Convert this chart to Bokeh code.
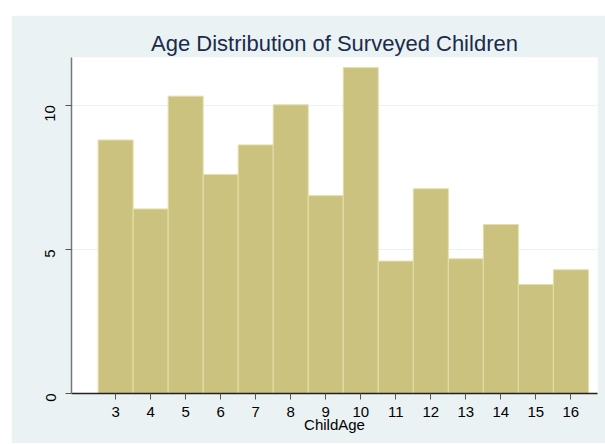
import math
from bokeh.plotting import figure
from bokeh.models import FixedTicker, ColumnDataSource
from bokeh.embed import file_html
from bokeh.resources import INLINE

ages = [3, 4, 5, 6, 7, 8, 9, 10, 11, 12, 13, 14, 15, 16]
percent = [8.79, 6.40, 10.31, 7.59, 8.62, 10.01, 6.86, 11.30, 4.59, 7.10, 4.67, 5.86, 3.78, 4.29]
x_ticks = ages
y_ticks = [0, 5, 10]

src = ColumnDataSource(dict(
    left=[a - 0.5 for a in ages],
    right=[a + 0.5 for a in ages],
    top=percent,
    bottom=[0] * len(ages),
))

BG = "#EAF2F3"
FONT = "Liberation Sans"

p = figure(width=594, height=428, output_backend="svg", toolbar_location=None,
           x_range=(1.74, 16.76), y_range=(0, 11.65),
           min_border_left=60, min_border_right=8, min_border_top=42, min_border_bottom=50,
           title="Age Distribution of Surveyed Children",
           styles={"position": "absolute", "left": "11px", "top": "15px"})

p.border_fill_color = BG
p.background_fill_color = "white"
p.outline_line_color = None

p.title.align = "center"
p.title.text_font = FONT
p.title.text_font_style = "normal"
p.title.text_font_size = "22px"
p.title.text_color = "#1A2B4C"
p.title.standoff = 3

p.quad(left="left", right="right", top="top", bottom="bottom", source=src,
       fill_color="#CAC27E", line_color="#E4DFA9", line_width=1)

p.xgrid.grid_line_color = None
p.ygrid.grid_line_color = BG
p.ygrid.grid_line_width = 1.2
p.ygrid.ticker = FixedTicker(ticks=y_ticks)

p.xaxis.ticker = FixedTicker(ticks=x_ticks)
p.yaxis.ticker = FixedTicker(ticks=y_ticks)
p.xaxis.minor_tick_line_color = None
p.yaxis.minor_tick_line_color = None

for ax in (p.xaxis, p.yaxis):
    ax.major_tick_out = 6
    ax.major_tick_in = 0
    ax.major_tick_line_color = "#555555"
    ax.major_label_text_font = FONT
    ax.major_label_text_font_size = "15px"
    ax.major_label_text_color = "black"
    ax.axis_label_text_font = FONT
    ax.axis_label_text_font_style = "normal"
    ax.axis_label_text_font_size = "15px"
    ax.axis_label_text_color = "black"

p.xaxis.axis_line_color = "#222222"
p.xaxis.axis_line_width = 1.5
p.yaxis.axis_line_color = "#777777"
p.yaxis.axis_line_width = 1.5
p.xaxis.axis_label = "ChildAge"
p.xaxis.major_label_standoff = 7
p.xaxis.axis_label_standoff = -4
p.yaxis.major_label_orientation = math.pi / 2
p.yaxis.major_label_standoff = 15

open("out.html", "w").write(file_html(p, INLINE))
